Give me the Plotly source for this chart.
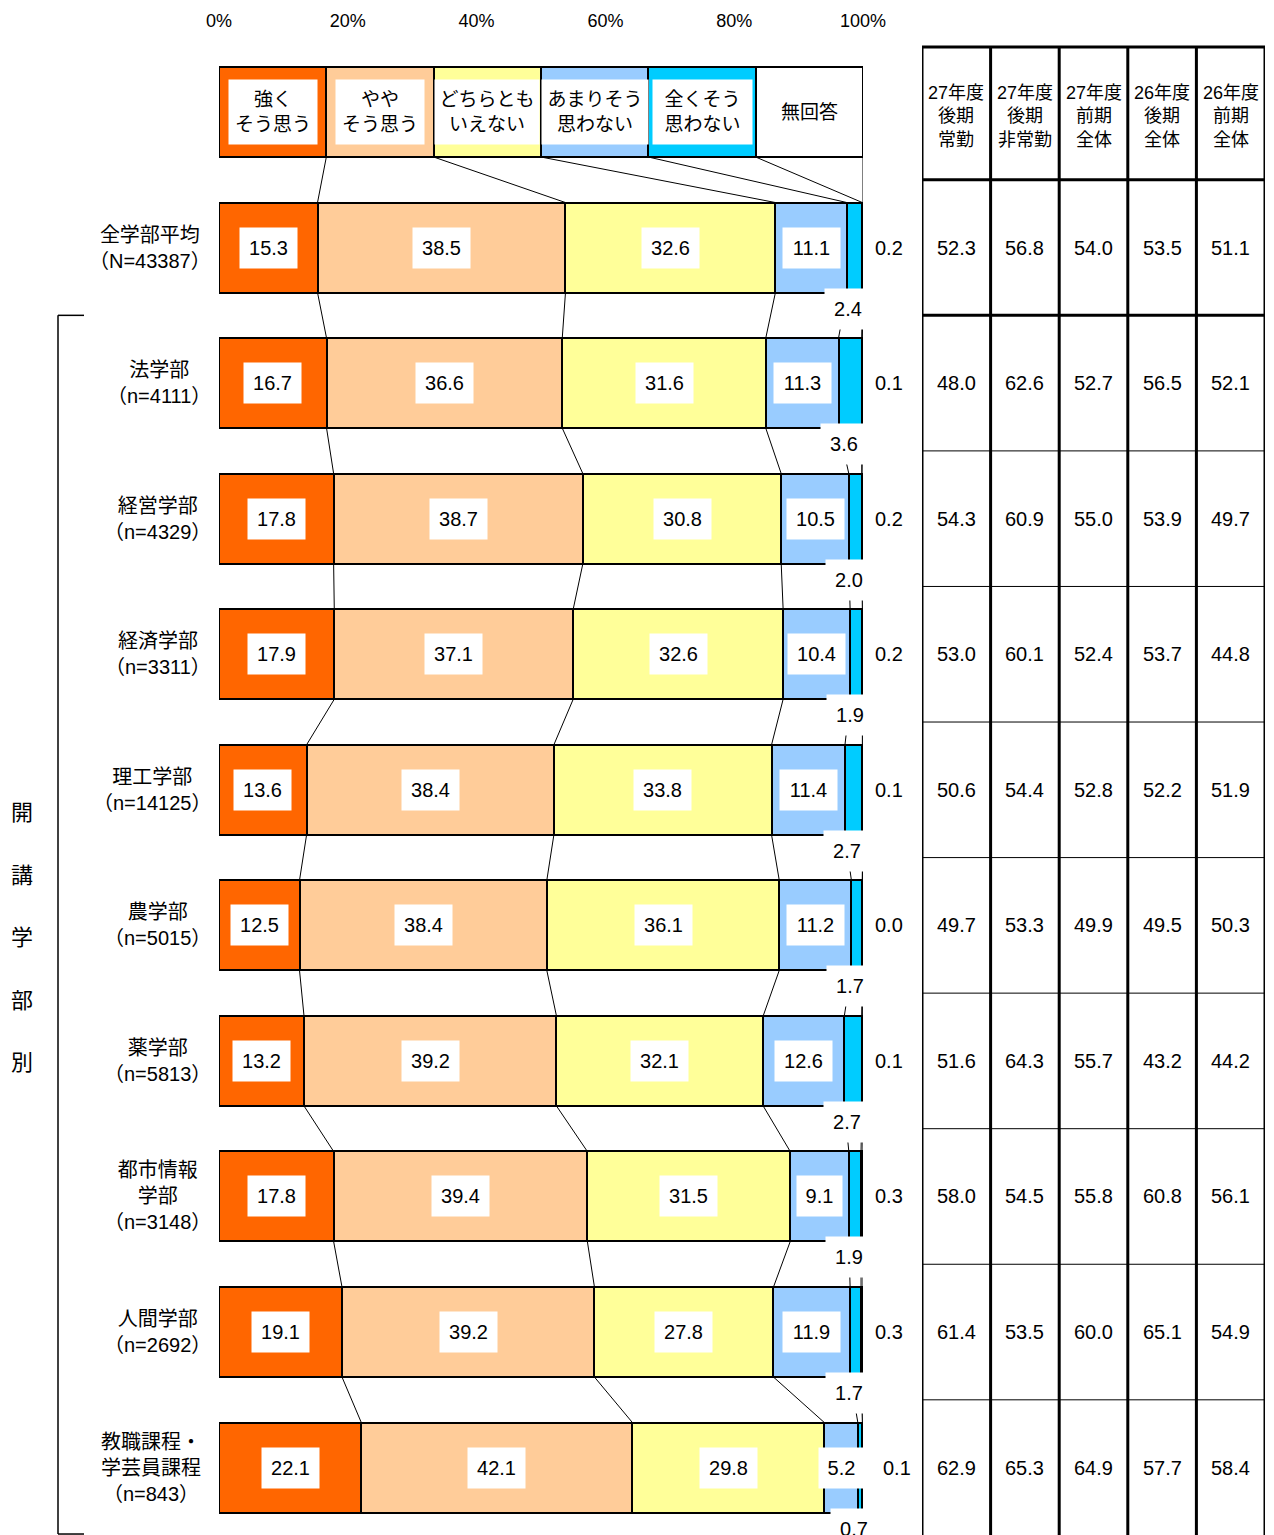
import plotly.graph_objects as go

# ---------------- data ----------------
categories = ["全学部平均<br>（N=43387）", "法学部<br>（n=4111）", "経営学部<br>（n=4329）",
              "経済学部<br>（n=3311）", "理工学部<br>（n=14125）", "農学部<br>（n=5015）",
              "薬学部<br>（n=5813）", "都市情報<br>学部<br>（n=3148）", "人間学部<br>（n=2692）",
              "教職課程・<br>学芸員課程<br>（n=843）"]
series_names = ["強く<br>そう思う", "やや<br>そう思う", "どちらとも<br>いえない",
                "あまりそう<br>思わない", "全くそう<br>思わない", "無回答"]
strongly = [15.3, 16.7, 17.8, 17.9, 13.6, 12.5, 13.2, 17.8, 19.1, 22.1]
somewhat = [38.5, 36.6, 38.7, 37.1, 38.4, 38.4, 39.2, 39.4, 39.2, 42.1]
neutral = [32.6, 31.6, 30.8, 32.6, 33.8, 36.1, 32.1, 31.5, 27.8, 29.8]
not_much = [11.1, 11.3, 10.5, 10.4, 11.4, 11.2, 12.6, 9.1, 11.9, 5.2]
not_at_all = [2.4, 3.6, 2.0, 1.9, 2.7, 1.7, 2.7, 1.9, 1.7, 0.7]
no_answer = [0.2, 0.1, 0.2, 0.2, 0.1, 0.0, 0.1, 0.3, 0.3, 0.1]
series_values = [strongly, somewhat, neutral, not_much, not_at_all, no_answer]

tick_vals = [0, 20, 40, 60, 80, 100]
tick_text = ["0%", "20%", "40%", "60%", "80%", "100%"]

table_headers = ["27年度<br>後期<br>常勤", "27年度<br>後期<br>非常勤", "27年度<br>前期<br>全体",
                 "26年度<br>後期<br>全体", "26年度<br>前期<br>全体"]
col_27_late_full = [52.3, 48.0, 54.3, 53.0, 50.6, 49.7, 51.6, 58.0, 61.4, 62.9]
col_27_late_part = [56.8, 62.6, 60.9, 60.1, 54.4, 53.3, 64.3, 54.5, 53.5, 65.3]
col_27_early = [54.0, 52.7, 55.0, 52.4, 52.8, 49.9, 55.7, 55.8, 60.0, 64.9]
col_26_late = [53.5, 56.5, 53.9, 53.7, 52.2, 49.5, 43.2, 60.8, 65.1, 57.7]
col_26_early = [51.1, 52.1, 49.7, 44.8, 51.9, 50.3, 44.2, 56.1, 54.9, 58.4]
table_cols = [col_27_late_full, col_27_late_part, col_27_early, col_26_late, col_26_early]

side_title = "開講学部別"

# ---------------- style ----------------
colors = ["#FF6600", "#FFCC99", "#FFFF99", "#99CCFF", "#00CCFF", "#FFFFFF"]
FONT = "Liberation Sans, Noto Sans CJK JP, sans-serif"
W, H = 1274, 1535
OFF = 8                      # page offset of the figure (body margin)
TOP = 24


def px(x):
    """screen x pixel -> paper fraction"""
    return (x - OFF) / W


X0, X1 = px(219), px(863)
BAR_W = 0.664
ROW_PX = 135.56
ROW0 = 112 - OFF
YR = [(H - ROW0) / ROW_PX, (TOP - ROW0) / ROW_PX]

n = len(categories)
rows = list(range(1, n + 1))
legend_share = 100 / len(series_names)

fig = go.Figure()
for k, (name, vals) in enumerate(zip(series_names, series_values)):
    fig.add_trace(go.Bar(
        orientation="h", y=[0] + rows, x=[legend_share] + vals, name=name,
        width=BAR_W, marker=dict(color=colors[k], line=dict(color="black", width=2)),
        hoverinfo="skip",
    ))

shapes = []
annotations = []

# connector lines between bars
cums = [[legend_share * (k + 1) for k in range(6)]]
for i in range(n):
    c, acc = [], 0
    for vals in series_values:
        acc += vals[i]
        c.append(min(acc, 100))
    cums.append(c)
for r in range(n):
    for k in range(6):
        shapes.append(dict(type="line", xref="x", yref="y",
                           x0=cums[r][k], y0=r + BAR_W / 2, x1=cums[r + 1][k], y1=r + 1 - BAR_W / 2,
                           line=dict(color="black", width=1), layer="below"))

# legend labels
legend_widths = [80, 80, 96, 98, 91, None]
for k, name in enumerate(series_names):
    a = dict(x=(k + 0.5) * legend_share, y=0, xref="x", yref="y", text=name, showarrow=False,
             xanchor="center", font=dict(size=19, color="black", family=FONT), align="center")
    if legend_widths[k]:
        a.update(bgcolor="white", width=legend_widths[k], height=56, borderpad=4)
    annotations.append(a)

# data labels
for i in range(n):
    acc = 0
    for k, vals in enumerate(series_values):
        v = vals[i]
        txt = f"{v:.1f}"
        if k < 4:
            annotations.append(dict(x=acc + v / 2, y=i + 1, xref="x", yref="y", text=txt,
                                    showarrow=False, bgcolor="white", xanchor="center",
                                    width=47 if len(txt) >= 4 else 35, height=30, borderpad=5,
                                    font=dict(size=20, color="black", family=FONT)))
        elif k == 4:
            annotations.append(dict(x=acc + v / 2 - 1.0, y=i + 1 + 0.45, xref="x", yref="y", text=txt,
                                    showarrow=False, bgcolor="white", width=36, height=30, borderpad=5,
                                    xanchor="center",
                                    font=dict(size=20, color="black", family=FONT)))
        else:
            xp = X0 + (X1 - X0) * (1.053 if i == n - 1 else 1.04)
            annotations.append(dict(x=xp, y=i + 1, xref="paper", yref="y", text=txt,
                                    showarrow=False, xanchor="center",
                                    font=dict(size=20, color="black", family=FONT)))
        acc += v

# row labels (full-width closing paren carries trailing space -> nudge right)
for i, cat in enumerate(categories):
    right = 203 if i == n - 1 else 213
    annotations.append(dict(x=px(right), y=i + 1, xref="paper", yref="y", text=cat, xanchor="right",
                            align="center", showarrow=False,
                            font=dict(size=20, color="black", family=FONT)))

# side bracket and vertical title
bx0, bx1 = px(58), px(84)
for s in [dict(x0=bx0, x1=bx0, y0=1.5, y1=10.49), dict(x0=bx0, x1=bx1, y0=1.5, y1=1.5),
          dict(x0=bx0, x1=bx1, y0=10.49, y1=10.49)]:
    shapes.append(dict(type="line", xref="paper", yref="y", line=dict(color="black", width=1.5), **s))
for j, ch in enumerate(side_title):
    annotations.append(dict(x=px(22), y=5.17 + 0.461 * j, xref="paper", yref="y", text=ch,
                            showarrow=False, xanchor="center",
                            font=dict(size=22, color="black", family=FONT)))

# table
t_top = (47 - 112) / ROW_PX
for c in range(6):
    shapes.append(dict(type="line", xref="x2", yref="y", x0=c, x1=c, y0=t_top, y1=YR[0] + 0.1,
                       line=dict(color="black", width=3)))
shapes.append(dict(type="line", xref="x2", yref="y", x0=0, x1=5, y0=t_top, y1=t_top,
                   line=dict(color="black", width=3)))
for r in range(n):
    yb = r + 0.5
    shapes.append(dict(type="line", xref="x2", yref="y", x0=0, x1=5, y0=yb, y1=yb,
                       line=dict(color="black", width=3 if r < 2 else 1)))
for c, hdr in enumerate(table_headers):
    annotations.append(dict(x=c + 0.5, y=0.03, xref="x2", yref="y", text=hdr, showarrow=False,
                            align="center", xanchor="center",
                            font=dict(size=18, color="black", family=FONT)))
    for i, v in enumerate(table_cols[c]):
        annotations.append(dict(x=c + 0.5, y=i + 1, xref="x2", yref="y", text=f"{v:.1f}",
                                showarrow=False, xanchor="center",
                                font=dict(size=20, color="black", family=FONT)))

fig.update_layout(
    width=W, height=H, barmode="stack", showlegend=False,
    margin=dict(l=0, r=0, t=TOP, b=0, autoexpand=False),
    paper_bgcolor="white", plot_bgcolor="white",
    font=dict(family=FONT, color="black"),
    xaxis=dict(domain=[X0, X1], range=[0, 100], side="top", tickvals=tick_vals, ticktext=tick_text,
               showgrid=False, zeroline=False, showline=False, ticks="", automargin=False,
               tickfont=dict(size=18, color="black", family=FONT)),
    xaxis2=dict(domain=[px(922), px(1265)], range=[0, 5], anchor="y", visible=False),
    yaxis=dict(range=YR, visible=False, domain=[0, 1]),
    shapes=shapes, annotations=annotations,
)

fig.write_html("out.html")
